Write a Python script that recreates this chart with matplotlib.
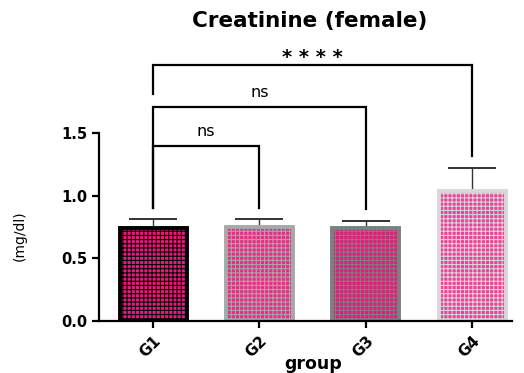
import numpy as np
import matplotlib.pyplot as plt

# values
groups = ['G1', 'G2', 'G3', 'G4']
means = [0.74, 0.75, 0.74, 1.04]
sem = [0.07, 0.06, 0.06, 0.18]
edge_colors = ['#000000', '#a8a8a8', '#7f7f7f', '#d8d8d8']
face_colors = ['#e8187e', '#ec2a88', '#e6197e', '#f0409a']

# comparisons: (left group, right group, bracket height, left leg end, right leg end, label)
brackets = [
    (0, 1, 1.40, 0.90, 0.90, 'ns'),
    (0, 2, 1.71, 0.90, 0.89, 'ns'),
    (0, 3, 2.04, 1.81, 1.32, '* * * *'),
]

W, H = 524, 373
plt.rcParams['hatch.linewidth'] = 0.75

fig = plt.figure(figsize=(W / 100, H / 100), dpi=100)
ax = fig.add_axes([99 / W, 52 / H, (512 - 99) / W, 275.7 / H])

x = np.arange(len(groups))
for i in range(len(groups)):
    ax.bar(x[i], means[i], width=0.63, color=face_colors[i],
           edgecolor=edge_colors[i], linewidth=2.8, hatch='++++', zorder=2)
    ax.errorbar(x[i], means[i], yerr=[[0], [sem[i]]], fmt='none',
                ecolor='#333333', elinewidth=1.0, capsize=17, capthick=1.4,
                zorder=1)

for a, b, h, la, lb, txt in brackets:
    ax.plot([x[a], x[a], x[b], x[b]], [la, h, h, lb], color='black',
            lw=1.6, solid_joinstyle='miter', clip_on=False)
    if txt == 'ns':
        ax.text((x[a] + x[b]) / 2, h + 0.05, txt, ha='center', va='bottom',
                fontsize=11.5)
    else:
        ax.text((x[a] + x[b]) / 2, h + 0.02, txt, ha='center', va='baseline',
                fontsize=14, fontweight='bold')

ax.set_xlim(-0.508, 3.376)
ax.set_ylim(0, 2.2)
ax.set_yticks([0, 0.5, 1.0, 1.5])
ax.set_yticklabels(['0.0', '0.5', '1.0', '1.5'], fontweight='bold', fontsize=10.5)
ax.set_xticks(x)
ax.set_xticklabels(groups, rotation=45, ha='right', rotation_mode='anchor',
                   fontweight='bold', fontsize=11)
ax.tick_params(axis='both', direction='out', length=5, width=1.6)
ax.tick_params(axis='x', pad=4)

for s in ['top', 'right']:
    ax.spines[s].set_visible(False)
ax.spines['left'].set_bounds(0, 1.5)
ax.spines['left'].set_linewidth(1.6)
ax.spines['bottom'].set_linewidth(1.6)

fig.text(310 / W, 1 - 21 / H, 'Creatinine (female)', ha='center', va='center',
         fontsize=15.5, fontweight='bold')
fig.text(313 / W, 1 - 355 / H, 'group', ha='center', va='top',
         fontsize=12.5, fontweight='bold')
fig.text(20 / W, 1 - 236 / H, '(mg/dl)', ha='center', va='center',
         rotation=90, fontsize=10)

fig.savefig('out.png', dpi=100)
